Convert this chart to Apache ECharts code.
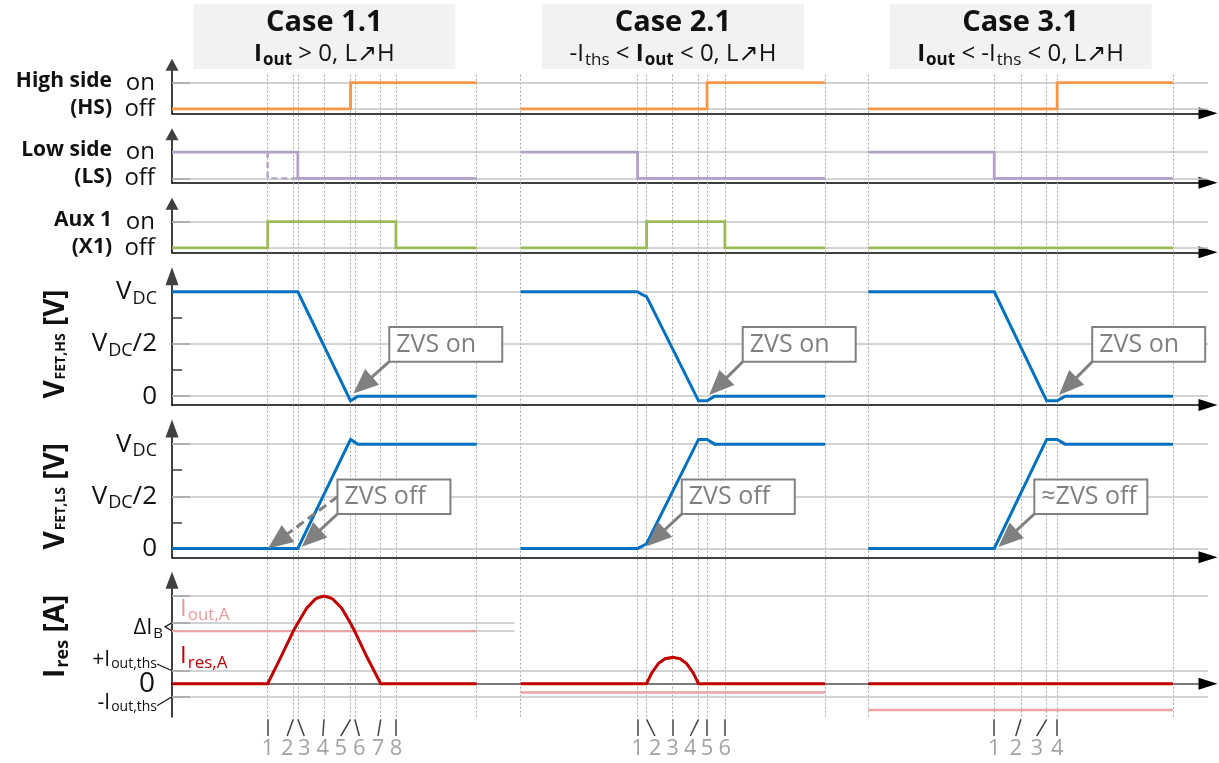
<!DOCTYPE html>
<html>
<head>
<meta charset="utf-8">
<title>Half-bridge L→H transition cases</title>
<script src="https://cdn.jsdelivr.net/npm/echarts@6.0.0/dist/echarts.min.js"></script>
<style>
html, body { margin: 0; padding: 0; background: #fff; }
#chart { width: 1219px; height: 763px; }
</style>
</head>
<body>
<div id="chart"></div>
<script>
// ---------- time base: each case window runs from 0 to 100 (local units) ----------
const caseOffsets = [0, 114.4, 228.5];
const caseLength = 100;
const caseTitles = ['Case 1.1', 'Case 2.1', 'Case 3.1'];
const caseConditions = [
  '{mb|I}{sb|out}{m| > 0, L\u2197H}',
  '{m|-I}{s|ths}{m| < }{mb|I}{sb|out}{m| < 0, L\u2197H}',
  '{mb|I}{sb|out}{m| < -I}{s|ths}{m| < 0, L\u2197H}'
];

// interval boundaries (local time), marked by dotted guides and numbered ticks
const eventTimes = [
  [31.4, 39.8, 41.3, 49.9, 58.6, 60.0, 68.5, 73.5],
  [38.4, 41.35, 49.9, 58.4, 61.2, 67.05],
  [41.35, 50.1, 58.55, 62.0]
];
// where the interval numbers sit (fanned out below the guides)
const eventLabelTimes = [
  [31.4, 37.8, 43.4, 49.5, 55.4, 61.5, 67.6, 73.5],
  [38.4, 44.1, 49.9, 55.7, 61.2, 67.05],
  [41.35, 48.4, 55.3, 62.0]
];

// ---------- gate signals (0 = off, 1 = on) ----------
const highSide = [
  [[0, 0], [58.6, 0], [58.6, 1], [100, 1]],
  [[0, 0], [61.2, 0], [61.2, 1], [100, 1]],
  [[0, 0], [62.0, 0], [62.0, 1], [100, 1]]
];
const lowSide = [
  [[0, 1], [41.3, 1], [41.3, 0], [100, 0]],
  [[0, 1], [38.4, 1], [38.4, 0], [100, 0]],
  [[0, 1], [41.35, 1], [41.35, 0], [100, 0]]
];
const lowSideEarlyOff = [[31.4, 1], [31.4, 0], [41.3, 0]];   // case 1.1 alternative
const aux1 = [
  [[0, 0], [31.4, 0], [31.4, 1], [73.5, 1], [73.5, 0], [100, 0]],
  [[0, 0], [41.35, 0], [41.35, 1], [67.05, 1], [67.05, 0], [100, 0]],
  [[0, 0], [100, 0]]
];

// ---------- FET voltages (per unit of V_DC) ----------
const vFetHs = [
  [[0, 1], [41.3, 1], [58.6, -0.045], [61.0, 0], [100, 0]],
  [[0, 1], [38.4, 1], [39.8, 0.975], [41.35, 0.955], [58.4, -0.045], [61.2, -0.045], [63.7, 0], [100, 0]],
  [[0, 1], [41.35, 1], [58.55, -0.045], [62.0, -0.045], [64.6, 0], [100, 0]]
];
const vFetLs = [
  [[0, 0], [41.3, 0], [58.6, 1.045], [61.0, 1], [100, 1]],
  [[0, 0], [38.4, 0], [39.8, 0.02], [41.35, 0.045], [58.4, 1.045], [61.2, 1.045], [63.7, 1], [100, 1]],
  [[0, 0], [41.35, 0], [58.55, 1.045], [62.0, 1.045], [64.6, 1], [100, 1]]
];

// ---------- resonant current (per unit of peak) and output current levels ----------
const iRes = [
  [[0, 0], [31.4, 0], [35.4, 0.28], [39.8, 0.60], [41.25, 0.69], [44.2, 0.86], [46.9, 0.96], [47.9, 0.98],
   [49.9, 1.0], [51.9, 0.98], [52.9, 0.96], [55.7, 0.86], [58.6, 0.69], [59.95, 0.60], [63.9, 0.31], [68.5, 0], [100, 0]],
  [[0, 0], [41.35, 0], [43.0, 0.12], [45.2, 0.23], [47.4, 0.285], [49.9, 0.30], [52.3, 0.285], [54.5, 0.23],
   [56.7, 0.12], [58.4, 0], [100, 0]],
  [[0, 0], [100, 0]]
];
const iOutLevels = [0.60, -0.10, -0.30];
const iThs = 0.148;          // ±I_out,ths
const deltaIbTop = 0.696;    // upper bound of ΔI_B band (lower bound = I_out,A)

// ---------- ZVS call-outs (box anchored at its lower-left corner) ----------
const hsCallouts = [
  { text: 'ZVS on', anchor: [71.3, 0.33], tips: [{ to: [59.5, 0.026] }] },
  { text: 'ZVS on', anchor: [187.3, 0.33], tips: [{ to: [176.3, 0.01] }] },
  { text: 'ZVS on', anchor: [302.0, 0.33], tips: [{ to: [291.1, 0.01] }] }
];
const lsCallouts = [
  { text: 'ZVS off', anchor: [54.3, 0.33], tips: [{ to: [42.6, 0.016] }, { to: [31.5, 0], dashed: true }] },
  { text: 'ZVS off', anchor: [167.3, 0.33], tips: [{ to: [155.8, 0.02] }] },
  { text: '\u2248ZVS off', anchor: [283.0, 0.33], tips: [{ to: [271.2, 0.013] }] }
];

// ---------- styling ----------
const FONT = '"Open Sans", "Noto Sans", "DejaVu Sans", sans-serif';
const C = {
  hs: '#f79646', ls: '#b3a2c7', aux: '#9bbb59', fet: '#0070c0',
  ires: '#c00000', iout: '#eba3a3', grid: '#c4c4c4', axis: '#404040',
  guide: '#a8a8a8', callout: '#808080', text: '#111111', num: '#8c8c8c'
};
const T_MAX = 340;
const GRID_L = 172, GRID_R = 11;

const rows = [
  { top: 64.8, height: 48.5, min: -0.165, max: 1.68 },   // high side
  { top: 134.2, height: 48.5, min: -0.165, max: 1.68 },  // low side
  { top: 203.8, height: 48.5, min: -0.165, max: 1.68 },  // aux 1
  { top: 276.2, height: 128.8, min: -0.085, max: 1.15 }, // V_FET,HS
  { top: 428.5, height: 128.8, min: -0.085, max: 1.15 }, // V_FET,LS
  { top: 580.2, height: 136.5, min: -0.376, max: 1.18 }  // I_res
];

// rich-text styles with a lowered subscript; both colour keys so they work for labels and graphics
function richSet(F, f, color, bold) {
  const w = bold ? 'bold' : 'normal';
  const pad = Math.round(F * 0.42);
  const base = (size, weight, extra) => Object.assign({
    fontSize: size, lineHeight: size, verticalAlign: 'top', fontFamily: FONT,
    color, fill: color, fontWeight: weight
  }, extra || {});
  return {
    m: base(F, w),
    s: base(f, w, { padding: [pad, 0, 0, 1] }),
    mb: base(F, 'bold'),
    sb: base(f, 'bold', { padding: [pad, 0, 0, 1] })
  };
}
const shift = (pts, off) => pts.map(p => [p[0] + off, p[1]]);

// ---------- grids & axes ----------
const grid = rows.map(r => ({ left: GRID_L, right: GRID_R, top: r.top, height: r.height, outerBoundsMode: 'none' }));
grid.push({ left: GRID_L, right: GRID_R, top: 74, height: 642.7, outerBoundsMode: 'none' });   // dotted guides
grid.push({ left: GRID_L, right: GRID_R, top: 719.3, height: 16.7, outerBoundsMode: 'none' }); // interval ticks

const xAxis = grid.map((g, i) => {
  const visible = i <= 5;
  return {
    type: 'value', gridIndex: i, min: 0, max: T_MAX, show: visible,
    position: 'bottom',
    axisLine: {
      show: visible, onZero: i === 5,
      symbol: ['none', 'triangle'], symbolSize: [12, 19],
      lineStyle: { color: '#000', width: i === 5 ? 2 : 1.5 }
    },
    axisTick: { show: false }, axisLabel: { show: false }, splitLine: { show: false }
  };
});

const vRich = richSet(26, 18, C.text, false);
const iRich = richSet(21, 14, C.text, false);
iRich.se = Object.assign({}, iRich.s, { padding: [7, 6, 0, 1] });
const dRich = richSet(22, 15, C.text, false);
iRich.dm = dRich.m;
iRich.ds = dRich.s;

function arrowY(len) {
  return { show: true, symbol: ['none', 'triangle'], symbolSize: [13, len], lineStyle: { color: C.axis, width: 2 } };
}
const yAxis = [];
for (let i = 0; i < 3; i++) {
  yAxis.push({
    type: 'value', gridIndex: i, min: rows[i].min, max: rows[i].max,
    axisLine: arrowY(12),
    axisTick: { show: true, inside: true, length: 18, customValues: [0, 1], lineStyle: { color: C.axis, width: 1.5 } },
    axisLabel: {
      show: true, customValues: [0, 1], margin: 17, fontSize: 24, fontFamily: FONT, color: C.text,
      hideOverlap: false,
      formatter: v => (v === 1 ? 'on' : 'off')
    },
    splitLine: { show: false }
  });
}
for (let i = 3; i < 5; i++) {
  yAxis.push({
    type: 'value', gridIndex: i, min: rows[i].min, max: rows[i].max,
    axisLine: arrowY(18),
    axisTick: { show: true, inside: true, length: 18, customValues: [0, 0.5, 1], lineStyle: { color: C.axis, width: 1.5 } },
    axisLabel: {
      show: true, customValues: [0, 0.5, 1], margin: 15, rich: vRich, hideOverlap: false,
      formatter: v => (v === 0 ? '{m|0}' : v === 1 ? '{m|V}{s|DC}' : '{m|V}{s|DC}{m|/2}')
    },
    splitLine: { show: false }
  });
}
yAxis.push({
  type: 'value', gridIndex: 5, min: rows[5].min, max: rows[5].max,
  axisLine: arrowY(17),
  axisTick: { show: true, inside: true, length: 18, customValues: [1, deltaIbTop, iOutLevels[0], iThs, -iThs], lineStyle: { color: C.axis, width: 1.5 } },
  axisLabel: {
    show: true, customValues: [-0.223, 0.27, 0.635], margin: 9, rich: iRich,
    hideOverlap: false, showMinLabel: true, showMaxLabel: true,
    formatter: v => {
      if (v > 0.5) return '{dm|\u0394I}{ds|B}';
      if (v > 0) return '{m|+I}{se|out,ths}';
      return '{m|-I}{se|out,ths}';
    }
  },
  splitLine: { show: false }
});
yAxis.push({ type: 'value', gridIndex: 6, min: 0, max: 1, show: false });
yAxis.push({ type: 'value', gridIndex: 7, min: 0, max: 1, show: false });
// quarter-scale minor ticks on the two voltage axes
for (let i = 3; i < 5; i++) {
  yAxis.push({
    type: 'value', gridIndex: i, position: 'left', offset: 0, min: rows[i].min, max: rows[i].max,
    axisLine: { show: false },
    axisTick: { show: true, inside: true, length: 10, customValues: [0.25, 0.75], lineStyle: { color: C.axis, width: 1.5 } },
    axisLabel: { show: false }, splitLine: { show: false }
  });
}
// zero label of the current axis
yAxis.push({
  type: 'value', gridIndex: 5, position: 'left', offset: 0, min: rows[5].min, max: rows[5].max,
  axisLine: { show: false }, axisTick: { show: false }, splitLine: { show: false },
  axisLabel: {
    show: true, customValues: [0], margin: 17, fontSize: 28, fontFamily: FONT, color: C.text,
    showMinLabel: true, showMaxLabel: true, formatter: () => '0'
  }
});

// ---------- series ----------
const series = [];

// dotted guides through all rows
const guideTimes = [];
caseOffsets.forEach((off, c) => {
  if (c > 0) guideTimes.push(off);
  eventTimes[c].forEach(t => guideTimes.push(off + t));
  guideTimes.push(off + caseLength);
});
series.push({
  type: 'line', xAxisIndex: 6, yAxisIndex: 6, data: [], silent: true, z: 1,
  markLine: {
    z: 1, silent: true, symbol: 'none', label: { show: false }, animation: false,
    lineStyle: { type: [2, 2], color: C.guide, width: 1 },
    data: guideTimes.map(t => ({ xAxis: t }))
  }
});

// horizontal reference lines per row
function refLines(row, values, extra) {
  series.push({
    type: 'line', xAxisIndex: row, yAxisIndex: row, data: [], silent: true, z: 1,
    markLine: {
      z: 1, silent: true, symbol: 'none', label: { show: false }, animation: false,
      lineStyle: { type: 'solid', color: C.grid, width: 1.5 },
      data: values.map(v => ({ yAxis: v })).concat(extra || [])
    }
  });
}
refLines(0, [0, 1]);
refLines(1, [0, 1]);
refLines(2, [0, 1]);
refLines(3, [0, 0.5, 1]);
refLines(4, [0, 0.5, 1]);
refLines(5, [1, iThs, -iThs], [
  [{ coord: [0, deltaIbTop] }, { coord: [caseOffsets[1] - 2, deltaIbTop] }],
  [{ coord: [0, iOutLevels[0]] }, { coord: [caseOffsets[1] - 2, iOutLevels[0]] }]
]);
// grey zero line of the current axis (arrow head stays black)
series.push({
  type: 'line', xAxisIndex: 5, yAxisIndex: 5, data: [], silent: true, z: 2,
  markLine: {
    z: 2, silent: true, symbol: 'none', label: { show: false }, animation: false,
    lineStyle: { type: 'solid', color: '#7a7a7a', width: 2.2 },
    data: [[{ coord: [0, 0] }, { coord: [T_MAX - 3.1, 0] }]]
  }
});

function trace(row, pts, color, width, dashed, z) {
  series.push({
    type: 'line', xAxisIndex: row, yAxisIndex: row, data: pts, showSymbol: false, symbol: 'none',
    silent: true, z: z || 3, animation: false,
    lineStyle: { color, width, type: dashed ? [6, 4] : 'solid', join: 'miter', cap: 'butt' }
  });
}
caseOffsets.forEach((off, c) => {
  trace(0, shift(highSide[c], off), C.hs, 2.8);
  trace(1, shift(lowSide[c], off), C.ls, 2.8);
  trace(2, shift(aux1[c], off), C.aux, 2.8);
  trace(3, shift(vFetHs[c], off), C.fet, 3);
  trace(4, shift(vFetLs[c], off), C.fet, 3);
  trace(5, [[off, iOutLevels[c]], [off + caseLength, iOutLevels[c]]], C.iout, 2.4, false, 3);
  trace(5, shift(iRes[c], off), C.ires, 3, false, 4);
});
trace(1, shift(lowSideEarlyOff, caseOffsets[0]), C.ls, 2.4, true);

// call-out boxes with arrows
const measureCtx = document.createElement('canvas').getContext('2d');
const CALLOUT_FONT = '25px ' + FONT;
function calloutSeries(row, list) {
  series.push({
    type: 'custom', xAxisIndex: row, yAxisIndex: row, z: 6, silent: true, animation: false,
    data: list.map(a => a.anchor),
    encode: { x: 0, y: 1 },
    renderItem: (params, api) => {
      const a = list[params.dataIndex];
      const p0 = api.coord(a.anchor);
      measureCtx.font = CALLOUT_FONT;
      const tw = measureCtx.measureText(a.text).width;
      const w = Math.max(113, tw + 14), h = 34.6;
      const children = [];
      a.tips.forEach(tip => {
        const start = tip.dashed ? [p0[0], p0[1] - h / 2] : p0;
        const p1 = api.coord(tip.to);
        const dx = p1[0] - start[0], dy = p1[1] - start[1], len = Math.hypot(dx, dy);
        const ux = dx / len, uy = dy / len, HL = 25, HW = 10.5;
        const bx = p1[0] - ux * HL, by = p1[1] - uy * HL;
        children.push({
          type: 'line', shape: { x1: start[0], y1: start[1], x2: bx + ux, y2: by + uy },
          style: { stroke: C.callout, lineWidth: 3, lineDash: tip.dashed ? [9, 5] : null }
        });
        children.push({
          type: 'polygon',
          shape: { points: [[p1[0], p1[1]], [bx - uy * HW, by + ux * HW], [bx + uy * HW, by - ux * HW]] },
          style: { fill: C.callout }
        });
      });
      children.push({
        type: 'rect', shape: { x: p0[0], y: p0[1] - h, width: w, height: h },
        style: { fill: '#fff', stroke: C.callout, lineWidth: 2 }
      });
      children.push({
        type: 'text', x: p0[0] + 7, y: p0[1] - h / 2,
        style: { text: a.text, font: CALLOUT_FONT, fill: '#7f7f7f', align: 'left', verticalAlign: 'middle' }
      });
      return { type: 'group', children };
    }
  });
}
calloutSeries(3, hsCallouts);
calloutSeries(4, lsCallouts);

// interval ticks and numbers under the diagram
const tickLines = [], tickNums = [];
caseOffsets.forEach((off, c) => {
  eventTimes[c].forEach((t, k) => {
    const tl = eventLabelTimes[c][k];
    tickLines.push({ coords: [[off + t, 1], [off + tl, 0]] });
    tickNums.push({ value: [off + tl, -0.78], label: { formatter: String(k + 1) } });
  });
});
series.push({
  type: 'lines', coordinateSystem: 'cartesian2d', xAxisIndex: 7, yAxisIndex: 7, silent: true,
  lineStyle: { color: C.axis, width: 1.5, opacity: 1 }, data: tickLines, animation: false
});
series.push({
  type: 'scatter', xAxisIndex: 7, yAxisIndex: 7, silent: true, clip: false, symbolSize: 1,
  itemStyle: { color: 'rgba(0,0,0,0)' }, animation: false,
  label: { show: true, position: 'inside', color: C.num, fontSize: 22, fontFamily: FONT },
  data: tickNums
});

const chart = echarts.init(document.getElementById('chart'), null, { renderer: 'canvas' });
chart.setOption({
  animation: false,
  backgroundColor: '#ffffff',
  textStyle: { fontFamily: FONT },
  grid, xAxis, yAxis, series
});

// ---------- headings, row titles and current-axis annotations ----------
const px = (gi, t, v) => chart.convertToPixel({ gridIndex: gi }, [t, v]);
const graphic = [];
const titleRich = richSet(24, 17, C.text, false);
caseOffsets.forEach((off, c) => {
  const cx = px(0, off + caseLength / 2, 0)[0];
  graphic.push({ type: 'rect', shape: { x: cx - 131, y: 4, width: 262, height: 65 }, style: { fill: '#f2f2f2' }, z: 0 });
  graphic.push({
    type: 'text', x: cx, y: 23, z: 1,
    style: { text: caseTitles[c], font: 'bold 29px ' + FONT, fill: C.text, align: 'center', verticalAlign: 'middle' }
  });
  graphic.push({
    type: 'text', x: cx, y: 54, z: 1,
    style: { text: caseConditions[c], rich: titleRich, align: 'center', verticalAlign: 'middle' }
  });
});

const rowTitles = [['High side', '(HS)'], ['Low side', '(LS)'], ['Aux 1', '(X1)']];
rowTitles.forEach((names, i) => {
  const yOn = px(i, 0, 1)[1], yOff = px(i, 0, 0)[1];
  graphic.push({ type: 'text', x: 112, y: yOn - 2, style: { text: names[0], font: 'bold 21px ' + FONT, fill: C.text, align: 'right', verticalAlign: 'middle' } });
  graphic.push({ type: 'text', x: 112, y: yOff - 1, style: { text: names[1], font: 'bold 21px ' + FONT, fill: C.text, align: 'right', verticalAlign: 'middle' } });
});

const nameRich = richSet(28, 14, C.text, true);
const nameRich2 = richSet(28, 18, C.text, true);
[[3, '{m|V}{s|FET,HS}{m| [V]}', nameRich], [4, '{m|V}{s|FET,LS}{m| [V]}', nameRich], [5, '{m|I}{s|res}{m| [A]}', nameRich2]]
  .forEach(([gi, text, rich]) => {
    const yMid = gi === 5 ? px(5, 0, 0.54)[1] : px(gi, 0, 0.5)[1];
    graphic.push({
      type: 'text', x: 56, y: yMid, rotation: Math.PI / 2,
      style: { text, rich, align: 'center', verticalAlign: 'middle' }
    });
  });

// ΔI_B bracket and threshold leaders
const ax = px(5, 0, 0)[0];
const bracket = [px(5, 0, deltaIbTop), px(5, 0, (deltaIbTop + iOutLevels[0]) / 2), px(5, 0, iOutLevels[0])];
bracket[1][0] = ax - 7;
graphic.push({ type: 'polyline', shape: { points: bracket }, style: { stroke: C.text, lineWidth: 1.2, fill: null } });
[[0.225, iThs], [-0.251, -iThs]].forEach(([from, to]) => {
  const a = px(5, 0, from), b = px(5, 0, to);
  graphic.push({ type: 'polyline', shape: { points: [[ax - 15, a[1]], [b[0], b[1]]] }, style: { stroke: C.text, lineWidth: 1.2, fill: null } });
});

// series names inside the current plot
const legRich = (color) => richSet(24, 17, color, false);
graphic.push({ type: 'text', x: ax + 8, y: px(5, 0, 0.85)[1], style: { text: '{m|I}{s|out,A}', rich: legRich('#e89a9a'), align: 'left', verticalAlign: 'middle' } });
graphic.push({ type: 'text', x: ax + 8, y: px(5, 0, 0.31)[1], style: { text: '{m|I}{s|res,A}', rich: legRich(C.ires), align: 'left', verticalAlign: 'middle' } });

chart.setOption({ graphic });
</script>
</body>
</html>
